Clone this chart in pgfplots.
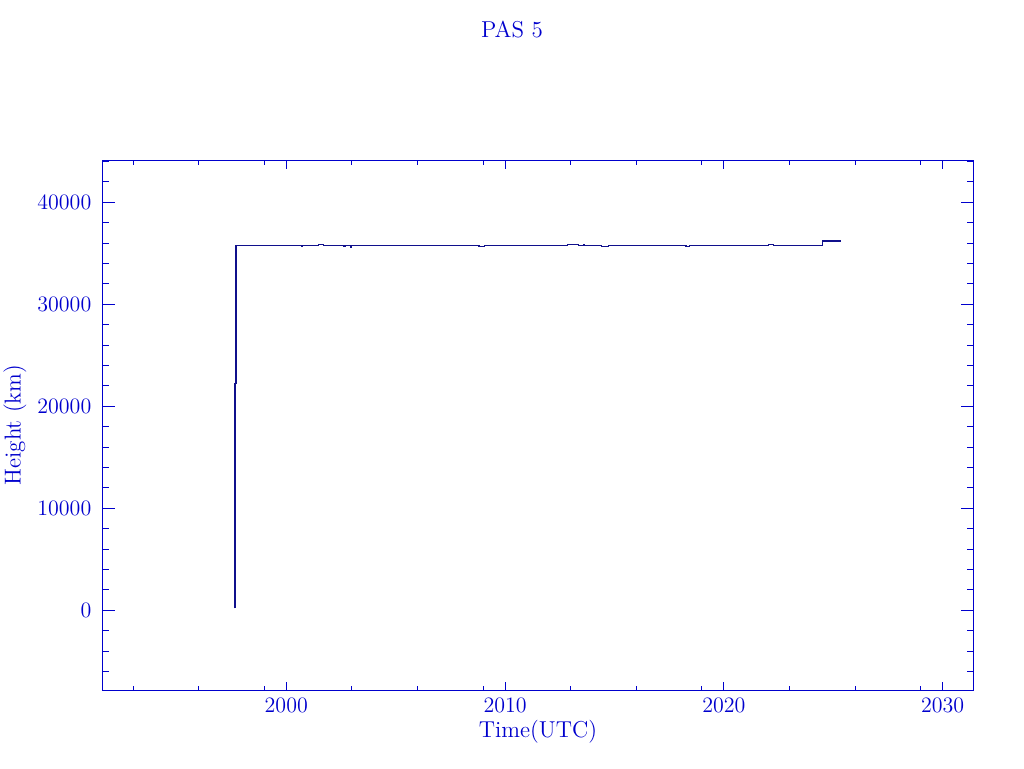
\documentclass[border=0pt]{standalone}
\usepackage{pgfplots}
\pgfplotsset{compat=1.18}
\definecolor{axblue}{RGB}{0,0,205}
\definecolor{lineblue}{RGB}{16,16,140}

\pgfplotsset{
  pasframe/.style={
    at={(51.35pt,39pt)}, anchor=south west,
    scale only axis, width=435.3pt, height=264.65pt,
    xmin=1991.61, xmax=2031.40, ymin=-7814, ymax=44078,
    axis line style={axblue, line width=0.5pt},
    every tick/.append style={axblue, line width=0.5pt},
    tick label style={font=\fontsize{11}{12}\selectfont, text=axblue},
    scaled ticks=false,
    /pgf/number format/fixed,
    /pgf/number format/1000 sep={},
    /pgf/number format/assume math mode=true,
  }
}

\begin{document}
\begin{tikzpicture}
\useasboundingbox (0,0) rectangle (512pt,384pt);

% x ticks and the data
\begin{axis}[
  pasframe,
  xtick={2000,2010,2020,2030},
  minor xtick={1993,1996,1999,2003,2006,2009,2013,2016,2019,2023,2026,2029},
  ytick=\empty,
  major tick length=4pt, minor tick length=2pt,
  xticklabel style={anchor=north, inner sep=0pt, yshift=-3.65pt},
]
\addplot[lineblue, line width=0.7pt, mark=none] coordinates {
  (1997.66,200) (1997.66,22255) (1997.71,22255) (1997.71,35784)
  (2000.69,35784) (2000.69,35720) (2000.71,35720) (2000.71,35784)
  (2001.46,35784) (2001.46,35882) (2001.69,35882) (2001.69,35784)
  (2002.61,35784) (2002.61,35686) (2002.68,35686) (2002.68,35784)
  (2002.93,35784) (2002.93,35620) (2002.97,35620) (2002.97,35784)
  (2008.81,35784) (2008.81,35686) (2009.05,35686) (2009.05,35784)
  (2012.84,35784) (2012.84,35882) (2013.35,35882) (2013.35,35784)
  (2013.58,35784) (2013.58,35850) (2013.60,35850) (2013.60,35784)
  (2014.41,35784) (2014.41,35686) (2014.72,35686) (2014.72,35784)
  (2018.27,35784) (2018.27,35686) (2018.42,35686) (2018.42,35784)
  (2022.03,35784) (2022.03,35882) (2022.26,35882) (2022.26,35784)
  (2024.50,35784) (2024.50,36225) (2025.34,36225)
};
\end{axis}

% y ticks
\begin{axis}[
  pasframe,
  xtick=\empty,
  ytick={0,10000,20000,30000,40000},
  minor ytick={-6000,-4000,-2000,2000,4000,6000,8000,12000,14000,16000,18000,
               22000,24000,26000,28000,32000,34000,36000,38000,42000,44000},
  major tick length=6.35pt, minor tick length=3.35pt,
  yticklabel style={anchor=east, inner sep=0pt, xshift=-5.5pt},
]
\end{axis}

\node[text=axblue, font=\fontsize{11.5}{14}\selectfont] at (256pt,369pt) {PAS 5};
\node[text=axblue, font=\fontsize{11.5}{14}\selectfont] at (269pt,18pt) {Time(UTC)};
\node[text=axblue, font=\fontsize{11.5}{14}\selectfont, rotate=90] at (7.5pt,171.5pt) {Height (km)};
\end{tikzpicture}
\end{document}
